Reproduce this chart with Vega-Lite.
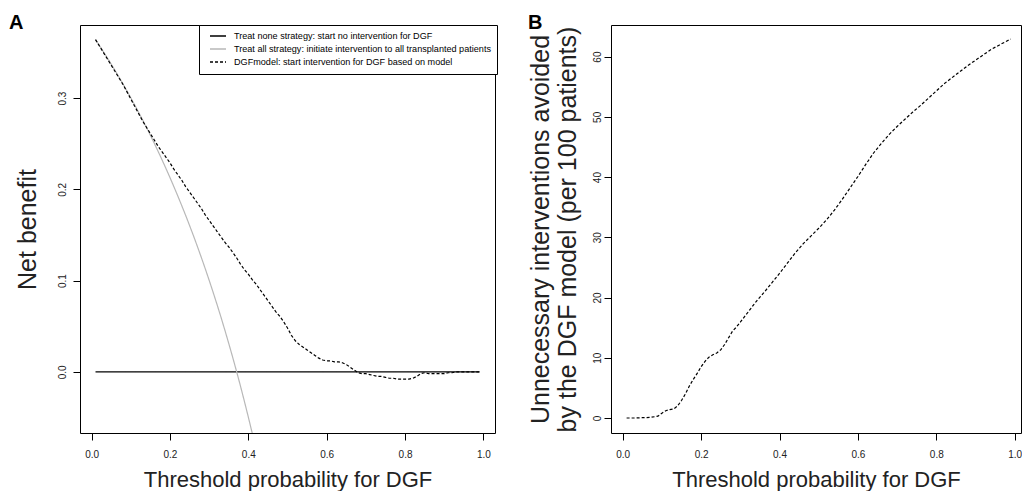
{
  "$schema": "https://vega.github.io/schema/vega-lite/v6.json",
  "padding": {"left": 8, "top": 12, "right": 0, "bottom": 0},
  "background": "white",
  "spacing": 116,
  "bounds": "flush",
  "config": {
    "font": "Liberation Sans",
    "view": {"stroke": "#000", "strokeWidth": 1},
    "axis": {
      "domain": false, "grid": false, "ticks": true, "tickSize": 7, "tickColor": "#000", "tickWidth": 1,
      "labelFont": "Liberation Sans", "labelFontSize": 10, "labelColor": "#222",
      "titleFont": "Liberation Sans", "titleFontWeight": "normal", "titleColor": "#222",
      "labelOverlap": false, "labelFlush": false, "labelBound": false
    }
  },
  "hconcat": [
    {
      "width": 415, "height": 408,
      "title": {"text": "A", "anchor": "start", "frame": "group", "dx": -71, "dy": 24, "offset": 0, "baseline": "alphabetic", "fontSize": 20, "fontWeight": "bold", "color": "#000", "font": "Liberation Sans"},
      "data": {"values": [
        {"s":"none","t":0.01,"v":0},{"s":"none","t":0.99,"v":0},
        {"s":"all","t":0.01,"v":0.3639},{"s":"all","t":0.02,"v":0.3575},{"s":"all","t":0.03,"v":0.3508},{"s":"all","t":0.04,"v":0.3441},{"s":"all","t":0.05,"v":0.3372},{"s":"all","t":0.06,"v":0.3301},{"s":"all","t":0.07,"v":0.3229},{"s":"all","t":0.08,"v":0.3155},{"s":"all","t":0.09,"v":0.3080},{"s":"all","t":0.10,"v":0.3003},
        {"s":"all","t":0.11,"v":0.2925},{"s":"all","t":0.12,"v":0.2844},{"s":"all","t":0.13,"v":0.2762},{"s":"all","t":0.14,"v":0.2678},{"s":"all","t":0.15,"v":0.2592},{"s":"all","t":0.16,"v":0.2504},{"s":"all","t":0.17,"v":0.2413},{"s":"all","t":0.18,"v":0.2321},{"s":"all","t":0.19,"v":0.2226},{"s":"all","t":0.20,"v":0.2129},
        {"s":"all","t":0.21,"v":0.2029},{"s":"all","t":0.22,"v":0.1927},{"s":"all","t":0.23,"v":0.1822},{"s":"all","t":0.24,"v":0.1715},{"s":"all","t":0.25,"v":0.1604},{"s":"all","t":0.26,"v":0.1491},{"s":"all","t":0.27,"v":0.1374},{"s":"all","t":0.28,"v":0.1254},{"s":"all","t":0.29,"v":0.1131},{"s":"all","t":0.30,"v":0.1004},
        {"s":"all","t":0.31,"v":0.0874},{"s":"all","t":0.32,"v":0.0740},{"s":"all","t":0.33,"v":0.0602},{"s":"all","t":0.34,"v":0.0459},{"s":"all","t":0.35,"v":0.0312},{"s":"all","t":0.36,"v":0.0161},{"s":"all","t":0.37,"v":0.0005},{"s":"all","t":0.38,"v":-0.0156},{"s":"all","t":0.39,"v":-0.0323},{"s":"all","t":0.40,"v":-0.0495},{"s":"all","t":0.41,"v":-0.0673},{"s":"all","t":0.42,"v":-0.0857},
        {"s":"model","t":0.01,"v":0.364},{"s":"model","t":0.02,"v":0.357},{"s":"model","t":0.03,"v":0.350},{"s":"model","t":0.04,"v":0.343},{"s":"model","t":0.05,"v":0.336},{"s":"model","t":0.06,"v":0.329},{"s":"model","t":0.07,"v":0.322},{"s":"model","t":0.08,"v":0.315},{"s":"model","t":0.09,"v":0.307},{"s":"model","t":0.10,"v":0.299},
        {"s":"model","t":0.11,"v":0.291},{"s":"model","t":0.12,"v":0.283},{"s":"model","t":0.13,"v":0.275},{"s":"model","t":0.14,"v":0.268},{"s":"model","t":0.15,"v":0.261},{"s":"model","t":0.16,"v":0.254},{"s":"model","t":0.17,"v":0.247},{"s":"model","t":0.18,"v":0.241},{"s":"model","t":0.19,"v":0.235},{"s":"model","t":0.20,"v":0.229},
        {"s":"model","t":0.21,"v":0.222},{"s":"model","t":0.22,"v":0.216},{"s":"model","t":0.23,"v":0.210},{"s":"model","t":0.24,"v":0.203},{"s":"model","t":0.25,"v":0.197},{"s":"model","t":0.26,"v":0.191},{"s":"model","t":0.27,"v":0.185},{"s":"model","t":0.28,"v":0.179},{"s":"model","t":0.29,"v":0.172},{"s":"model","t":0.30,"v":0.166},
        {"s":"model","t":0.31,"v":0.160},{"s":"model","t":0.32,"v":0.154},{"s":"model","t":0.33,"v":0.148},{"s":"model","t":0.34,"v":0.142},{"s":"model","t":0.35,"v":0.137},{"s":"model","t":0.36,"v":0.131},{"s":"model","t":0.37,"v":0.125},{"s":"model","t":0.38,"v":0.118},{"s":"model","t":0.39,"v":0.112},{"s":"model","t":0.40,"v":0.107},
        {"s":"model","t":0.41,"v":0.101},{"s":"model","t":0.42,"v":0.096},{"s":"model","t":0.43,"v":0.090},{"s":"model","t":0.44,"v":0.084},{"s":"model","t":0.45,"v":0.078},{"s":"model","t":0.46,"v":0.072},{"s":"model","t":0.47,"v":0.066},{"s":"model","t":0.48,"v":0.061},{"s":"model","t":0.49,"v":0.055},{"s":"model","t":0.50,"v":0.048},
        {"s":"model","t":0.51,"v":0.040},{"s":"model","t":0.52,"v":0.034},{"s":"model","t":0.53,"v":0.030},{"s":"model","t":0.54,"v":0.027},{"s":"model","t":0.55,"v":0.024},{"s":"model","t":0.56,"v":0.021},{"s":"model","t":0.57,"v":0.018},{"s":"model","t":0.58,"v":0.015},{"s":"model","t":0.59,"v":0.013},{"s":"model","t":0.60,"v":0.012},
        {"s":"model","t":0.61,"v":0.012},{"s":"model","t":0.62,"v":0.011},{"s":"model","t":0.63,"v":0.011},{"s":"model","t":0.64,"v":0.010},{"s":"model","t":0.65,"v":0.008},{"s":"model","t":0.66,"v":0.005},{"s":"model","t":0.67,"v":0.002},{"s":"model","t":0.68,"v":-0.001},{"s":"model","t":0.69,"v":-0.002},{"s":"model","t":0.70,"v":-0.002},
        {"s":"model","t":0.71,"v":-0.003},{"s":"model","t":0.72,"v":-0.004},{"s":"model","t":0.73,"v":-0.005},{"s":"model","t":0.74,"v":-0.005},{"s":"model","t":0.75,"v":-0.006},{"s":"model","t":0.76,"v":-0.007},{"s":"model","t":0.77,"v":-0.007},{"s":"model","t":0.78,"v":-0.008},{"s":"model","t":0.79,"v":-0.008},{"s":"model","t":0.80,"v":-0.008},
        {"s":"model","t":0.81,"v":-0.008},{"s":"model","t":0.82,"v":-0.007},{"s":"model","t":0.83,"v":-0.005},{"s":"model","t":0.84,"v":-0.002},{"s":"model","t":0.85,"v":-0.001},{"s":"model","t":0.86,"v":-0.002},{"s":"model","t":0.87,"v":-0.002},{"s":"model","t":0.88,"v":-0.002},{"s":"model","t":0.89,"v":-0.002},{"s":"model","t":0.90,"v":-0.002},
        {"s":"model","t":0.91,"v":-0.001},{"s":"model","t":0.92,"v":-0.001},{"s":"model","t":0.93,"v":0},{"s":"model","t":0.94,"v":0},{"s":"model","t":0.95,"v":0},{"s":"model","t":0.96,"v":0},{"s":"model","t":0.97,"v":0},{"s":"model","t":0.98,"v":0},{"s":"model","t":0.99,"v":0}
      ]},
      "mark": {"type": "line", "clip": true, "strokeWidth": 1.2},
      "encoding": {
        "x": {"field": "t", "type": "quantitative",
          "scale": {"domain": [-0.0296, 1.0296], "nice": false, "zero": false},
          "axis": {"values": [0, 0.2, 0.4, 0.6, 0.8, 1.0], "format": ".1f", "labelAngle": 0, "labelPadding": 9, "title": "Threshold probability for DGF", "titleFontSize": 22, "titlePadding": 10}},
        "y": {"field": "v", "type": "quantitative",
          "scale": {"domain": [-0.067, 0.380], "nice": false, "zero": false},
          "axis": {"values": [0, 0.1, 0.2, 0.3], "format": ".1f", "labelAngle": 270, "labelAlign": "center", "labelBaseline": "alphabetic", "labelPadding": 8, "title": "Net benefit", "titleFontSize": 25, "titleBaseline": "bottom", "titlePadding": 17}},
        "color": {"field": "s", "type": "nominal",
          "scale": {"domain": ["none", "all", "model"], "range": ["#000000", "#b8b8b8", "#000000"]},
          "legend": {"title": null, "orient": "none", "legendX": 119, "legendY": 0, "padding": 6, "strokeColor": "#000", "fillColor": "#fff",
            "symbolType": "M0,0H4", "symbolSize": 64, "symbolStrokeWidth": 1.3, "labelFontSize": 9.1, "labelFont": "Liberation Sans", "labelColor": "#000",
            "labelOffset": 19, "rowPadding": 2, "labelLimit": 400,
            "labelExpr": "datum.label == 'none' ? 'Treat none strategy: start no intervention for DGF' : datum.label == 'all' ? 'Treat all strategy: initiate intervention to all transplanted patients' : 'DGFmodel: start intervention for DGF based on model'"}},
        "strokeDash": {"field": "s", "type": "nominal",
          "scale": {"domain": ["none", "all", "model"], "range": [[1, 0], [1, 0], [3, 2]]},
          "legend": {"title": null, "orient": "none", "legendX": 119, "legendY": 0, "padding": 6, "strokeColor": "#000", "fillColor": "#fff",
            "symbolType": "M0,0H4", "symbolSize": 64, "symbolStrokeWidth": 1.3, "labelFontSize": 9.1, "labelFont": "Liberation Sans", "labelColor": "#000",
            "labelOffset": 19, "rowPadding": 2, "labelLimit": 400,
            "labelExpr": "datum.label == 'none' ? 'Treat none strategy: start no intervention for DGF' : datum.label == 'all' ? 'Treat all strategy: initiate intervention to all transplanted patients' : 'DGFmodel: start intervention for DGF based on model'"}}
      }
    },
    {
      "width": 410, "height": 408,
      "title": {"text": "B", "anchor": "start", "frame": "group", "dx": -83, "dy": 24, "offset": 0, "baseline": "alphabetic", "fontSize": 20, "fontWeight": "bold", "color": "#000", "font": "Liberation Sans"},
      "data": {"values": [
        {"t":0.01,"v":0.0},{"t":0.03,"v":0.0},{"t":0.05,"v":0.05},{"t":0.07,"v":0.1},{"t":0.09,"v":0.3},{"t":0.10,"v":0.8},{"t":0.11,"v":1.2},{"t":0.12,"v":1.4},{"t":0.13,"v":1.5},{"t":0.14,"v":2.0},
        {"t":0.15,"v":2.9},{"t":0.16,"v":4.0},{"t":0.17,"v":5.3},{"t":0.18,"v":6.4},{"t":0.19,"v":7.4},{"t":0.20,"v":8.5},{"t":0.21,"v":9.4},{"t":0.22,"v":10.1},{"t":0.23,"v":10.5},{"t":0.24,"v":10.8},
        {"t":0.25,"v":11.3},{"t":0.26,"v":12.2},{"t":0.27,"v":13.3},{"t":0.28,"v":14.4},{"t":0.29,"v":15.1},{"t":0.30,"v":15.9},{"t":0.32,"v":17.6},{"t":0.34,"v":19.3},{"t":0.36,"v":20.8},{"t":0.38,"v":22.4},
        {"t":0.40,"v":24.0},{"t":0.42,"v":25.7},{"t":0.44,"v":27.4},{"t":0.46,"v":28.9},{"t":0.48,"v":30.2},{"t":0.50,"v":31.5},{"t":0.52,"v":32.9},{"t":0.54,"v":34.5},{"t":0.56,"v":36.3},{"t":0.58,"v":38.2},
        {"t":0.60,"v":40.1},{"t":0.62,"v":42.1},{"t":0.64,"v":44.0},{"t":0.66,"v":45.6},{"t":0.68,"v":47.1},{"t":0.70,"v":48.4},{"t":0.72,"v":49.6},{"t":0.74,"v":50.8},{"t":0.76,"v":51.9},{"t":0.78,"v":53.1},
        {"t":0.80,"v":54.3},{"t":0.82,"v":55.5},{"t":0.84,"v":56.5},{"t":0.86,"v":57.5},{"t":0.88,"v":58.5},{"t":0.90,"v":59.4},{"t":0.92,"v":60.3},{"t":0.94,"v":61.2},{"t":0.96,"v":61.9},{"t":0.98,"v":62.6},{"t":0.99,"v":62.9}
      ]},
      "mark": {"type": "line", "clip": true, "strokeWidth": 1.2, "color": "#000", "strokeDash": [3, 2]},
      "encoding": {
        "x": {"field": "t", "type": "quantitative",
          "scale": {"domain": [-0.0298, 1.016], "nice": false, "zero": false},
          "axis": {"values": [0, 0.2, 0.4, 0.6, 0.8, 1.0], "format": ".1f", "labelAngle": 0, "labelPadding": 9, "title": "Threshold probability for DGF", "titleFontSize": 22, "titlePadding": 10}},
        "y": {"field": "v", "type": "quantitative",
          "scale": {"domain": [-2.49, 65.25], "nice": false, "zero": false},
          "axis": {"values": [0, 10, 20, 30, 40, 50, 60], "format": "d", "labelAngle": 270, "labelAlign": "center", "labelBaseline": "alphabetic", "labelPadding": 4, "title": ["Unnecessary interventions avoided", "by the DGF model (per 100 patients)"], "titleFontSize": 25, "titleLineHeight": 27, "titleBaseline": "bottom", "titlePadding": 12}}
      }
    }
  ]
}
